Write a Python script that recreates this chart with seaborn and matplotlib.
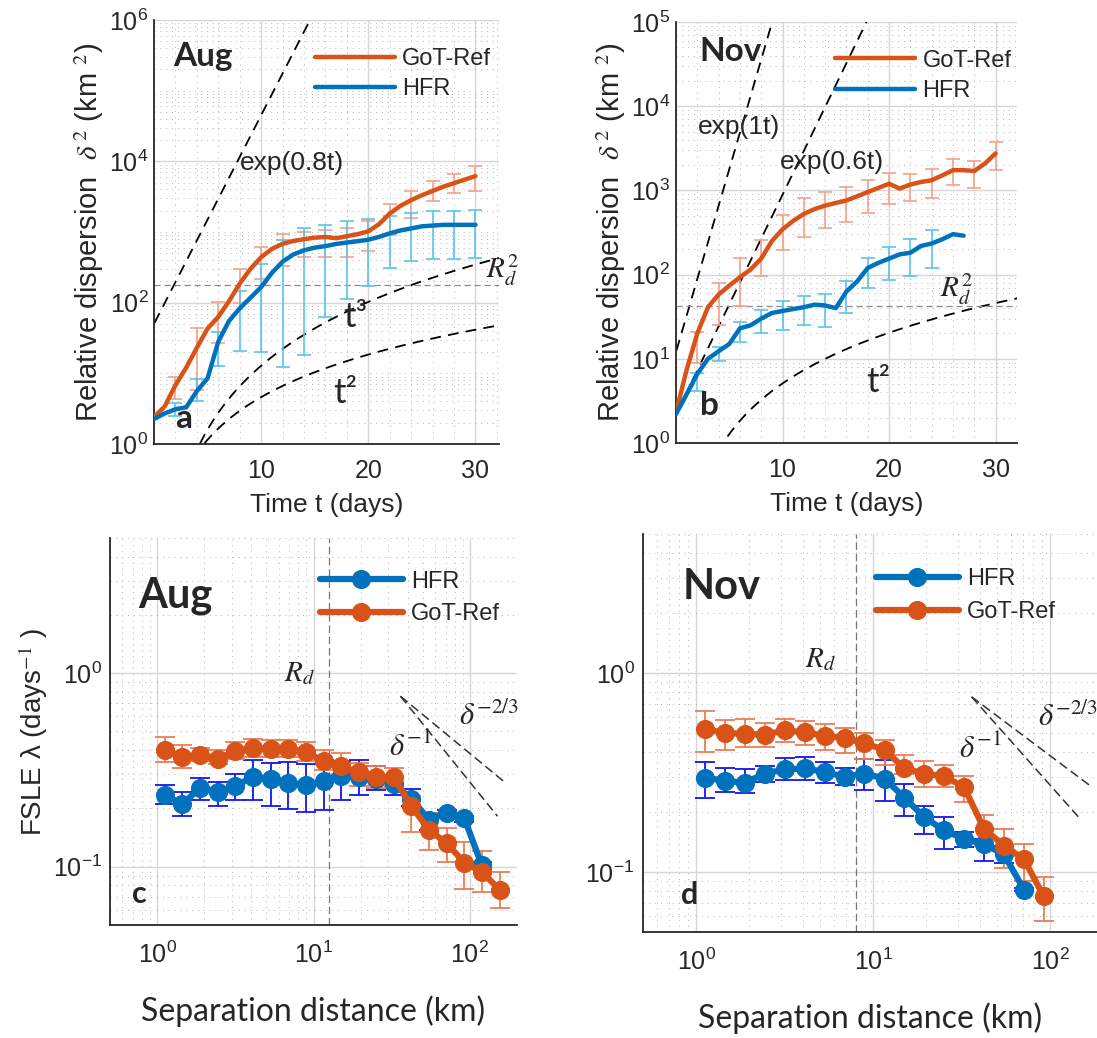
import numpy as np
import pandas as pd
import seaborn as sns
import matplotlib.pyplot as plt
from matplotlib.ticker import FixedLocator, LogLocator, MultipleLocator, NullFormatter, LogFormatterMathtext

# ---- relative dispersion, August (panel a) ----
t_aug = list(range(0, 31))
got_aug = [2.4, 3.4, 6.8, 12, 23, 43, 63, 105, 186, 300, 440, 575, 680, 745, 790, 830,
           850, 815, 870, 930, 1020, 1290, 1820, 2340, 2820, 3310, 3800, 4370, 4900, 5500, 6170]
hfr_aug = [2.25, 2.7, 3.1, 3.3, 5.6, 8.5, 28, 55, 83, 117, 166, 263, 380, 480, 550, 600,
           630, 676, 708, 740, 776, 850, 955, 1050, 1120, 1200, 1230, 1260, 1260, 1260, 1260]
tbar_aug = [2, 4, 6, 8, 10, 12, 14, 16, 18, 20, 22, 24, 26, 28, 30]
got_aug_lo = [4.3, 5.8, 27, 100, 214, 330, 435, 435, 435, 540, 920, 1590, 2760, 3550, 3830]
got_aug_hi = [8.9, 44, 103, 295, 610, 940, 1000, 1050, 1150, 1450, 2450, 3800, 5200, 6600, 8700]
hfr_aug_lo = [2.5, 4.1, 12.8, 21, 20, 12.3, 18, 62, 113, 170, 305, 390, 410, 410, 430]
hfr_aug_hi = [3.8, 8.3, 38, 146, 350, 780, 1130, 1260, 1410, 1540, 1700, 1860, 1960, 2000, 2050]

# ---- relative dispersion, November (panel b) ----
t_nov = list(range(0, 31))
got_nov = [2.3, 7.4, 20, 41, 58, 74, 93, 115, 155, 250, 345, 435, 525, 600, 660, 710,
           760, 850, 955, 1070, 1200, 1050, 1175, 1260, 1320, 1510, 1740, 1740, 1700, 2090, 2750]
t_nov_hfr = list(range(0, 28))
hfr_nov = [2.2, 3.8, 6.6, 10, 12.3, 15, 23, 25, 30, 35, 37, 39, 41, 44, 43, 40,
           63, 83, 120, 138, 155, 174, 182, 219, 234, 263, 302, 290]
tbar_nov = [2, 4, 6, 8, 10, 12, 14, 16, 18, 20, 22, 24, 26, 28, 30]
got_nov_lo = [8.9, 25, 42, 95, 196, 283, 355, 425, 535, 690, 740, 810, 1160, 1060, 1740]
got_nov_hi = [21, 79, 156, 258, 510, 810, 960, 1090, 1320, 1620, 1560, 1780, 2340, 2230, 3780]
tbar_nov_hfr = [2, 4, 6, 8, 10, 12, 14, 16, 18, 20, 22, 24]
hfr_nov_lo = [4.2, 9.3, 16, 20, 22, 25, 24, 35, 69, 87, 95, 120]
hfr_nov_hi = [6.8, 14, 27, 38, 48, 55, 59, 83, 156, 215, 262, 340]

# ---- FSLE (panels c, d) ----
sep = [1.12, 1.45, 1.88, 2.44, 3.16, 4.10, 5.32, 6.89, 8.93, 11.6,
       15.0, 19.4, 25.2, 32.6, 42.3, 54.8, 71.1, 92.1, 119, 155]

got_fsle_aug = [0.40, 0.37, 0.38, 0.362, 0.395, 0.413, 0.406, 0.405, 0.393, 0.35,
                0.33, 0.307, 0.292, 0.29, 0.205, 0.155, 0.132, 0.105, 0.094, 0.076]
got_fsle_aug_lo = [0.348, 0.324, 0.35, 0.34, 0.36, 0.37, 0.37, 0.37, 0.35, 0.318,
                   0.30, 0.262, 0.255, 0.262, 0.152, 0.122, 0.106, 0.077, 0.074, 0.061]
got_fsle_aug_hi = [0.47, 0.428, 0.41, 0.40, 0.44, 0.455, 0.45, 0.45, 0.44, 0.40,
                   0.385, 0.345, 0.333, 0.325, 0.231, 0.19, 0.158, 0.135, 0.12, 0.094]
hfr_fsle_aug = [0.236, 0.21, 0.256, 0.243, 0.261, 0.292, 0.283, 0.272, 0.263, 0.277,
                0.296, 0.292, 0.285, 0.268, 0.224, 0.175, 0.19, 0.178, 0.102]
hfr_fsle_aug_lo = [0.21, 0.182, 0.222, 0.207, 0.222, 0.222, 0.207, 0.199, 0.191, 0.197,
                   0.222, 0.236, 0.25, 0.236, 0.206, 0.155, 0.185, 0.17, 0.097]
hfr_fsle_aug_hi = [0.264, 0.243, 0.288, 0.274, 0.303, 0.358, 0.344, 0.347, 0.338, 0.358,
                   0.351, 0.358, 0.333, 0.292, 0.252, 0.189, 0.196, 0.182, 0.106]

got_fsle_nov = [0.524, 0.50, 0.496, 0.49, 0.515, 0.504, 0.484, 0.471, 0.445, 0.411,
                0.332, 0.313, 0.303, 0.268, 0.165, 0.136, 0.116, 0.0755]
got_fsle_nov_lo = [0.403, 0.41, 0.425, 0.425, 0.449, 0.436, 0.411, 0.395, 0.369, 0.345,
                   0.313, 0.268, 0.268, 0.225, 0.136, 0.105, 0.09, 0.057]
got_fsle_nov_hi = [0.644, 0.584, 0.589, 0.56, 0.589, 0.573, 0.557, 0.527, 0.50, 0.462,
                   0.389, 0.363, 0.345, 0.305, 0.193, 0.165, 0.139, 0.0944]
hfr_fsle_nov = [0.298, 0.288, 0.281, 0.313, 0.328, 0.332, 0.319, 0.301, 0.313, 0.295,
                0.237, 0.189, 0.162, 0.147, 0.138, 0.123, 0.0817]
hfr_fsle_nov_lo = [0.237, 0.253, 0.25, 0.284, 0.29, 0.292, 0.281, 0.273, 0.26, 0.227,
                   0.192, 0.156, 0.13, 0.133, 0.114, 0.111, 0.080]
hfr_fsle_nov_hi = [0.359, 0.332, 0.328, 0.34, 0.373, 0.378, 0.359, 0.332, 0.369, 0.366,
                   0.277, 0.214, 0.19, 0.159, 0.147, 0.136, 0.083]

# deformation radius (km) and guide-line constants
rd_aug, rd_nov = 12.6, 8.0
rd2_aug, rd2_nov = 176, 42
exp_aug = (50, 0.68)
exp_nov = [(12, 1.0), (2.2, 0.6)]
pow_aug = [(0.0128, 3), (0.046, 2)]
pow_nov = (0.051, 2)
slope_start, slope_amp = 36, 0.76

ORANGE = '#D95319'
BLUE = '#0072BD'
DARK = '#262626'

sns.set_style("white")
plt.rcParams['font.family'] = ['Liberation Sans', 'DejaVu Sans']
plt.rcParams['mathtext.fontset'] = 'stix'

fig = plt.figure(figsize=(10.97, 10.38), dpi=100)
ax_a = fig.add_axes([0.1404, 0.5723, 0.3145, 0.4085])
ax_b = fig.add_axes([0.6162, 0.5732, 0.3108, 0.4056])
ax_c = fig.add_axes([0.1003, 0.1089, 0.3710, 0.3728])
ax_d = fig.add_axes([0.5861, 0.1021, 0.4139, 0.3834])


def style(ax):
    for s in ['top', 'right']:
        ax.spines[s].set_visible(False)
    for s in ['left', 'bottom']:
        ax.spines[s].set_color(DARK)
        ax.spines[s].set_linewidth(1.3)
    ax.grid(True, which='major', color='#d6d6d6', lw=1.0, ls='-')
    ax.grid(True, which='minor', color='#b4b4b4', lw=0.7, ls=(0, (1, 5)))
    ax.tick_params(which='both', direction='in', colors=DARK)
    ax.tick_params(which='major', length=5)
    ax.tick_params(which='minor', length=3)
    ax.set_axisbelow(True)


def bars(ax, x, lo, hi, ref_x, ref_y, color, cap, lw=1.2, fmt='none', ms=0):
    center = pd.Series(ref_y, index=ref_x).reindex(x).values
    yerr = [center - np.array(lo), np.array(hi) - center]
    ax.errorbar(x, center, yerr=yerr, fmt=fmt, ms=ms, color=color, ecolor=color,
                elinewidth=lw, capsize=cap, capthick=lw, zorder=2)


# ---------------- panel a ----------------
ax = ax_a
tt = np.linspace(0.05, 32.5, 300)
ax.plot(tt, exp_aug[0] * np.exp(exp_aug[1] * tt), ls=(0, (6, 4)), color='k', lw=1.3)
for c, p in pow_aug:
    ax.plot(tt, c * tt ** p, ls=(0, (6, 4)), color='k', lw=1.3)
ax.axhline(rd2_aug, ls=(0, (5, 3)), color='#8a8a8a', lw=0.9)
bars(ax, tbar_aug, got_aug_lo, got_aug_hi, t_aug, got_aug, '#F4A28A', 5)
bars(ax, tbar_aug, hfr_aug_lo, hfr_aug_hi, t_aug, hfr_aug, '#5CC3EE', 5)
df = pd.DataFrame({'t': t_aug, 'got': got_aug, 'hfr': hfr_aug})
sns.lineplot(data=df, x='t', y='got', ax=ax, color=ORANGE, lw=3.2, label='GoT-Ref', zorder=3)
sns.lineplot(data=df, x='t', y='hfr', ax=ax, color=BLUE, lw=3.2, label='HFR', zorder=3)
ax.set_yscale('log')
ax.set_xlim(0, 32.2)
ax.set_ylim(1, 1e6)
ax.yaxis.set_major_locator(FixedLocator([1, 1e2, 1e4, 1e6]))
ax.yaxis.set_minor_locator(LogLocator(base=10, subs=np.arange(1, 10), numticks=30))

# ---------------- panel b ----------------
ax = ax_b
for a0, r in exp_nov:
    ax.plot(tt, a0 * np.exp(r * tt), ls=(0, (6, 4)), color='k', lw=1.3)
ax.plot(tt, pow_nov[0] * tt ** pow_nov[1], ls=(0, (6, 4)), color='k', lw=1.3)
ax.axhline(rd2_nov, ls=(0, (5, 3)), color='#8a8a8a', lw=0.9)
bars(ax, tbar_nov, got_nov_lo, got_nov_hi, t_nov, got_nov, '#F4A28A', 5)
bars(ax, tbar_nov_hfr, hfr_nov_lo, hfr_nov_hi, t_nov_hfr, hfr_nov, '#5CC3EE', 5)
sns.lineplot(x=t_nov, y=got_nov, ax=ax, color=ORANGE, lw=3.2, label='GoT-Ref', zorder=3)
sns.lineplot(x=t_nov_hfr, y=hfr_nov, ax=ax, color=BLUE, lw=3.2, label='HFR', zorder=3)
ax.set_yscale('log')
ax.set_xlim(0, 32)
ax.set_ylim(1, 1e5)
ax.yaxis.set_major_locator(FixedLocator([1, 1e1, 1e2, 1e3, 1e4, 1e5]))
ax.yaxis.set_minor_locator(LogLocator(base=10, subs=np.arange(2, 10), numticks=30))

for ax in (ax_a, ax_b):
    style(ax)
    ax.xaxis.set_major_locator(FixedLocator([10, 20, 30]))
    ax.xaxis.set_minor_locator(MultipleLocator(2))
    ax.yaxis.set_major_formatter(LogFormatterMathtext())
    ax.yaxis.set_minor_formatter(NullFormatter())
    ax.tick_params(axis='x', which='major', labelsize=18, pad=11)
    ax.tick_params(axis='y', which='major', labelsize=18, pad=4)
    ax.set_xlabel('Time t (days)', fontsize=19, color=DARK, labelpad=7)
    ax.set_ylabel(r'Relative dispersion  $\delta^{\,2}$ (km $^{2}$)', fontsize=21, color=DARK, labelpad=2)
    ax.legend(loc='center left', bbox_to_anchor=(0.432, 0.872), frameon=False, fontsize=17,
              handlelength=3.4, handletextpad=0.3, labelspacing=0.35, borderpad=0)

# panel a texts
ax_a.text(1.8, 3.0e5, 'Aug', fontsize=24, fontweight='bold', family='Lato', va='center')
ax_a.text(8.0, 9.4e3, 'exp(0.8t)', fontsize=19, va='center')
ax_a.text(17.7, 63, 't³', fontsize=25, family='Lato', va='center')
ax_a.text(16.7, 5.3, 't²', fontsize=25, family='Lato', va='center')
ax_a.text(31.0, 290, r'$R_d^2$', fontsize=21, va='center')
ax_a.text(2.0, 2.3, 'a', fontsize=24, fontweight='bold', family='Lato', va='center')

# panel b texts
ax_b.text(0.07, 0.93, 'Nov', transform=ax_b.transAxes, fontsize=24, fontweight='bold',
          family='Lato', va='center')
ax_b.text(0.065, 0.75, 'exp(1t)', transform=ax_b.transAxes, fontsize=19, va='center')
ax_b.text(0.305, 0.667, 'exp(0.6t)', transform=ax_b.transAxes, fontsize=19, va='center')
ax_b.text(0.775, 0.365, r'$R_d^2$', transform=ax_b.transAxes, fontsize=21, va='center')
ax_b.text(0.557, 0.145, 't²', transform=ax_b.transAxes, fontsize=25, family='Lato', va='center')
ax_b.text(0.07, 0.09, 'b', transform=ax_b.transAxes, fontsize=24, fontweight='bold',
          family='Lato', va='center')


# ---------------- panels c, d ----------------
def fsle_panel(ax, x_got, got, got_lo, got_hi, x_hfr, hfr, hfr_lo, hfr_hi, rd, xmax):
    ax.axvline(rd, ls=(0, (6, 3)), color='#777777', lw=0.9)
    dd = np.geomspace(slope_start, 150, 50)
    ax.plot(dd, slope_amp * (dd / slope_start) ** -1, ls=(0, (6, 3)), color='#333333', lw=1.1)
    dd = np.geomspace(slope_start, 168, 50)
    ax.plot(dd, slope_amp * (dd / slope_start) ** (-2 / 3), ls=(0, (6, 3)), color='#333333', lw=1.1)
    h_hfr = sns.lineplot(x=x_hfr, y=hfr, ax=ax, color=BLUE, lw=4.5, marker='o', ms=13,
                         mec=BLUE, label='HFR', zorder=3).lines[-1]
    bars(ax, x_hfr, hfr_lo, hfr_hi, x_hfr, hfr, '#1414F0', 7, lw=1.3, fmt='.', ms=6)
    h_got = sns.lineplot(x=x_got, y=got, ax=ax, color=ORANGE, lw=4.5, marker='o', ms=13,
                         mec=ORANGE, label='GoT-Ref', zorder=5).lines[-1]
    bars(ax, x_got, got_lo, got_hi, x_got, got, '#EA7E55', 7, lw=1.3)
    ax.set_xscale('log')
    ax.set_yscale('log')
    ax.set_xlim(0.5, xmax)
    ax.set_ylim(0.05, 5)
    style(ax)
    ax.xaxis.set_major_locator(FixedLocator([1, 10, 100]))
    ax.xaxis.set_minor_locator(LogLocator(base=10, subs=np.arange(2, 10), numticks=30))
    ax.yaxis.set_major_locator(FixedLocator([0.1, 1]))
    ax.yaxis.set_minor_locator(LogLocator(base=10, subs=np.arange(2, 10), numticks=30))
    for axis in (ax.xaxis, ax.yaxis):
        axis.set_major_formatter(LogFormatterMathtext())
        axis.set_minor_formatter(NullFormatter())
    ax.tick_params(axis='x', which='major', labelsize=18, pad=12)
    ax.tick_params(axis='y', which='major', labelsize=18, pad=6)
    ax.set_xlabel('Separation distance (km)', fontsize=23, family='Lato', labelpad=20)
    ax.legend(handles=[h_hfr, h_got], labels=['HFR', 'GoT-Ref'], loc='center left',
              bbox_to_anchor=(0.487, 0.845), frameon=False, fontsize=17,
              handlelength=3.5, handletextpad=0.35, labelspacing=0.45, borderpad=0)


fsle_panel(ax_c, sep, got_fsle_aug, got_fsle_aug_lo, got_fsle_aug_hi,
           sep[:19], hfr_fsle_aug, hfr_fsle_aug_lo, hfr_fsle_aug_hi, rd_aug, 200)
fsle_panel(ax_d, sep[:18], got_fsle_nov, got_fsle_nov_lo, got_fsle_nov_hi,
           sep[:17], hfr_fsle_nov, hfr_fsle_nov_lo, hfr_fsle_nov_hi, rd_nov, 184)
ax_c.set_ylabel('FSLE λ (days$^{-1}$ )', fontsize=20, color=DARK, labelpad=2)
ax_d.set_ylabel('')

for ax, month, letter, rdx, rdy, tx, ty in [(ax_c, 'Aug', 'c', 6.45, 1.0, 0.07, 0.85),
                                            (ax_d, 'Nov', 'd', 4.1, 1.18, 0.088, 0.867)]:
    ax.text(tx, ty, month, transform=ax.transAxes, fontsize=30, fontweight='bold',
            family='Lato', va='center')
    ax.text(rdx, rdy, r'$R_d$', fontsize=21, va='center')
    ax.text(30.6, 0.41, r'$\delta^{\mathit{-1}}$', fontsize=22, va='center')
    ax.text(85, 0.6, r'$\delta^{\mathit{-2/3}}$', fontsize=22, va='center')
ax_c.text(0.69, 0.072, 'c', fontsize=22, fontweight='bold', family='Lato', va='center')
ax_d.text(0.82, 0.077, 'd', fontsize=22, fontweight='bold', family='Lato', va='center')

fig.savefig('out.png', dpi=100)
